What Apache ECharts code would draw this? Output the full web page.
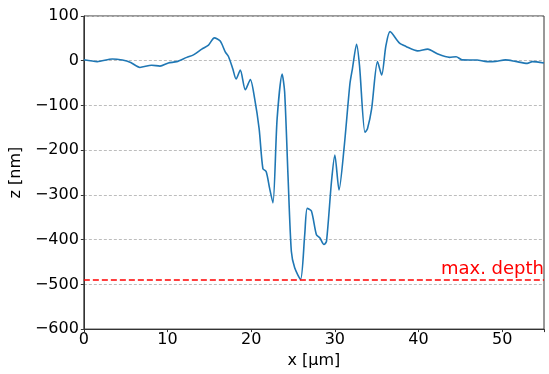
<!DOCTYPE html>
<html>
<head>
<meta charset="utf-8">
<script src="https://cdn.jsdelivr.net/npm/echarts@6/dist/echarts.min.js"></script>
<style>html,body{margin:0;padding:0;background:#fff}#c{width:549px;height:374px}</style>
</head>
<body>
<div id="c"></div>
<script>
const xVals = [0, 1.6, 3.4, 4.6, 5.6, 6.7, 8.1, 9.1, 10.1, 11.1, 12.3, 13.1, 14.1, 14.9, 15.6, 16.3, 16.9, 17.3, 17.8, 18.2, 18.7, 19.3, 19.9, 20.4, 20.95, 21.4, 21.8, 22.2, 22.6, 23.1, 23.7, 24.0, 24.4, 24.8, 25.2, 25.9, 26.4, 26.7, 27.2, 27.8, 28.2, 28.7, 29.0, 29.6, 30.0, 30.5, 31.1, 31.8, 32.1, 32.6, 32.95, 33.6, 33.9, 34.4, 35.1, 35.6, 36.1, 36.6, 37.7, 38.5, 39.9, 41.1, 42.3, 43.7, 44.5, 45.2, 47.0, 48.2, 49.2, 50.4, 51.6, 53.0, 53.6, 55];
const zVals = [2, -2, 4, 1.5, -4, -15, -10, -12, -5, -2, 7.5, 13, 26, 35, 51, 44, 20, 9, -18, -41, -21, -65, -42, -83, -152, -241, -248, -285, -318, -130, -30, -70, -256, -426, -463, -489, -389, -330, -336, -389, -396, -411, -404, -270, -211, -289, -196, -52, -18, 37, -11, -160, -152, -107, -2, -32, 33, 65, 40, 32, 22, 26, 15, 7.5, 9, 2, 1.5, -2, -1.5, 2, -1.5, -6, -2, -5];
const maxDepth = -489;
const maxDepthLabel = 'max. depth';
const xTicks = [0, 10, 20, 30, 40, 50];
const yTicks = [100, 0, -100, -200, -300, -400, -500, -600];

const font = 'DejaVu Sans';
const chart = echarts.init(document.getElementById('c'), null, {renderer: 'canvas'});
chart.setOption({
  animation: false,
  backgroundColor: '#fff',
  grid: {left: 83, right: 5, top: 16, bottom: 42, show: true, borderColor: '#333', borderWidth: 1, backgroundColor: 'transparent'},
  xAxis: {
    type: 'value', min: 0, max: 55, interval: 10,
    name: 'x [μm]', nameLocation: 'middle', nameGap: 21,
    nameTextStyle: {fontFamily: font, fontSize: 16, color: '#000'},
    axisLine: {show: true, onZero: false, lineStyle: {color: '#333', width: 1}},
    axisTick: {show: true, length: 3, inside: false, lineStyle: {color: '#333'}},
    axisLabel: {fontFamily: font, fontSize: 16, color: '#000', margin: 3,
      formatter: v => xTicks.includes(v) ? String(v) : ''},
    splitLine: {show: false}
  },
  yAxis: {
    type: 'value', min: -600, max: 100, interval: 100,
    name: 'z [nm]', nameLocation: 'middle', nameGap: 47,
    nameTextStyle: {fontFamily: font, fontSize: 16, color: '#000'},
    axisLine: {show: true, onZero: false, lineStyle: {color: '#333', width: 1}},
    axisTick: {show: true, length: 3, lineStyle: {color: '#333'}},
    axisLabel: {fontFamily: font, fontSize: 16, color: '#000', margin: 5,
      formatter: v => yTicks.includes(v) ? String(v).replace('-', '\u2212') : ''},
    splitLine: {show: true, lineStyle: {color: '#bdbdbd', type: [3, 2], width: 1}}
  },
  series: [{
    type: 'line',
    data: xVals.map((x, i) => [x, zVals[i]]),
    showSymbol: false,
    smooth: 0.25,
    lineStyle: {color: '#1f77b4', width: 1.6},
    z: 3,
    markLine: {
      silent: true,
      symbol: ['none', 'none'],
      lineStyle: {color: '#ff0000', type: [6, 3], width: 1.5},
      label: {show: true, position: 'insideEndTop', formatter: maxDepthLabel,
        fontFamily: font, fontSize: 18, color: '#ff0000', distance: [0, 1]},
      data: [{yAxis: maxDepth}]
    }
  }]
});
</script>
</body>
</html>
